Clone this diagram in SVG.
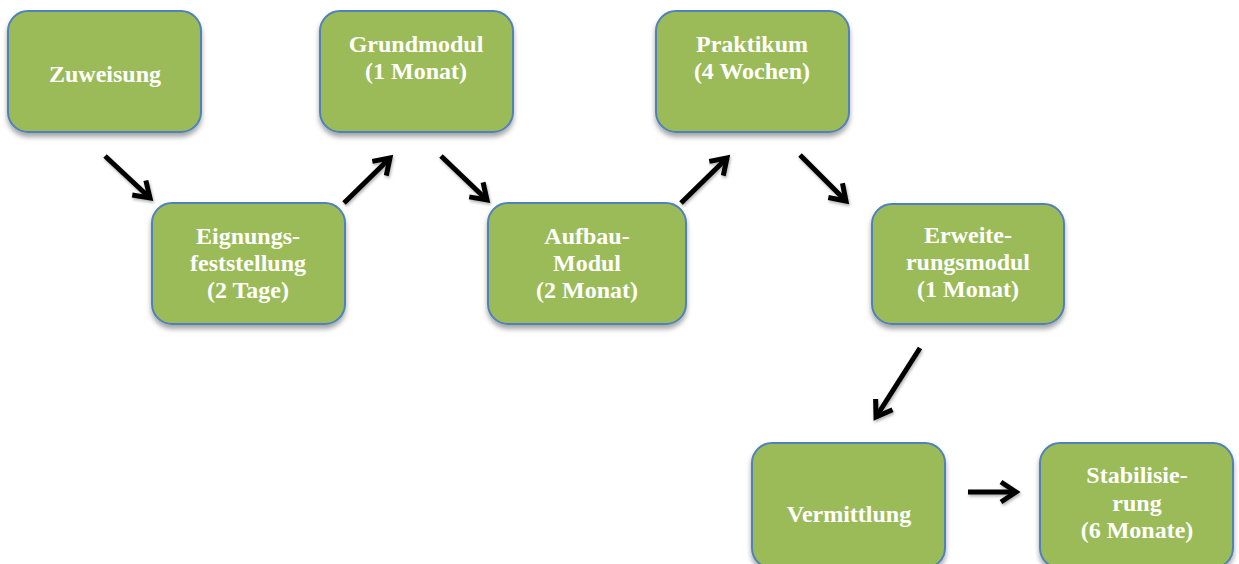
<svg xmlns="http://www.w3.org/2000/svg" width="1239" height="564" viewBox="0 0 1239 564">
<defs>
<filter id="sh" x="-10%" y="-10%" width="120%" height="130%">
<feDropShadow dx="0" dy="4" stdDeviation="2.5" flood-color="#000" flood-opacity="0.35"/>
</filter>
<filter id="ash" x="-20%" y="-20%" width="140%" height="140%">
<feDropShadow dx="1" dy="2" stdDeviation="1.5" flood-color="#000" flood-opacity="0.3"/>
</filter>
<marker id="ah" markerUnits="userSpaceOnUse" markerWidth="30" markerHeight="30" viewBox="-20 -15 30 30" refX="0" refY="0" orient="auto">
<path d="M -15 -10 L 0 0 L -15 10" fill="none" stroke="#000" stroke-width="5" stroke-linejoin="miter" stroke-linecap="butt"/>
</marker>
</defs>
<style>
.box{fill:#9BBB59;stroke:#4F81BD;stroke-width:2;filter:url(#sh)}
.t{font-family:'Liberation Serif','DejaVu Serif',serif;font-weight:700;font-size:24px;fill:#fff;text-anchor:middle}
.c{stroke:#000;stroke-width:5;fill:none;marker-end:url(#ah)}
</style>
<rect width="1239" height="564" fill="#fff"/>
<g id="zuweisung"><rect class="box" x="8" y="11" width="193" height="121" rx="20"/><text class="t" x="105" y="82">Zuweisung</text></g>
<g id="eignung"><rect class="box" x="152" y="203" width="193" height="121" rx="20"/><text class="t" x="248" y="244">Eignungs-</text><text class="t" x="248" y="271">feststellung</text><text class="t" x="248" y="298">(2 Tage)</text></g>
<g id="grundmodul"><rect class="box" x="320" y="11" width="193" height="121" rx="20"/><text class="t" x="416" y="52">Grundmodul</text><text class="t" x="416" y="79">(1 Monat)</text></g>
<g id="aufbau"><rect class="box" x="488" y="203" width="198" height="121" rx="20"/><text class="t" x="587" y="244">Aufbau-</text><text class="t" x="587" y="271">Modul</text><text class="t" x="587" y="298">(2 Monat)</text></g>
<g id="praktikum"><rect class="box" x="656" y="11" width="193" height="121" rx="20"/><text class="t" x="752" y="52">Praktikum</text><text class="t" x="752" y="79">(4 Wochen)</text></g>
<g id="erweiterung"><rect class="box" x="872" y="204" width="192" height="120" rx="20"/><text class="t" x="968" y="243">Erweite-</text><text class="t" x="968" y="270">rungsmodul</text><text class="t" x="968" y="297">(1 Monat)</text></g>
<g id="vermittlung"><rect class="box" x="752" y="443" width="193" height="125" rx="20"/><text class="t" x="849" y="522">Vermittlung</text></g>
<g id="stabilisierung"><rect class="box" x="1040" y="443" width="193" height="125" rx="20"/><text class="t" x="1137" y="483">Stabilisie-</text><text class="t" x="1137" y="511">rung</text><text class="t" x="1137" y="538">(6 Monate)</text></g>
<g id="connectors" filter="url(#ash)">
<line class="c" x1="105" y1="156" x2="150" y2="198"/>
<line class="c" x1="344" y1="203" x2="390" y2="158"/>
<line class="c" x1="441" y1="156" x2="487" y2="200"/>
<line class="c" x1="681" y1="203" x2="727" y2="158"/>
<line class="c" x1="800" y1="155" x2="846" y2="201"/>
<line class="c" x1="920" y1="348" x2="876" y2="417"/>
<line class="c" x1="968" y1="492" x2="1016" y2="492"/>
</g>
</svg>
